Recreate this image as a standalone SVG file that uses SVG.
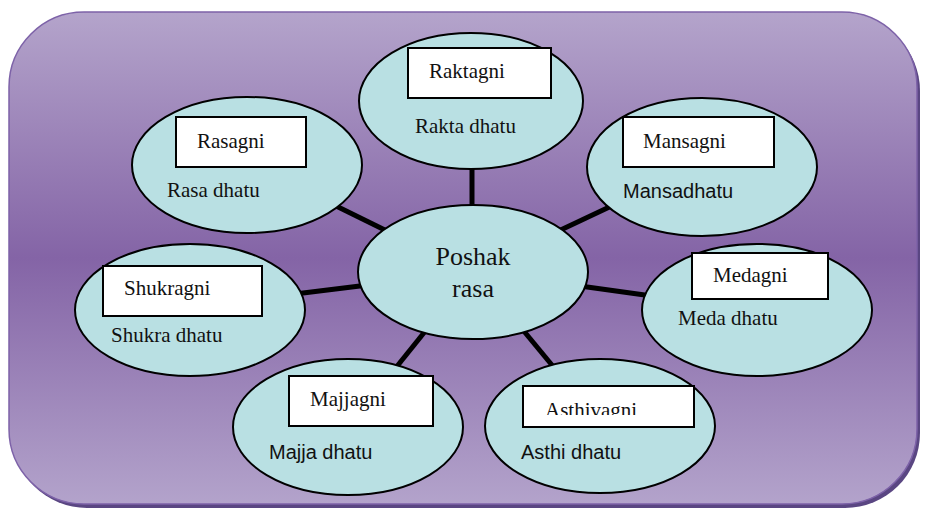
<svg xmlns="http://www.w3.org/2000/svg" width="925" height="510" viewBox="0 0 925 510">
<defs>
<linearGradient id="bg" x1="0" y1="0" x2="0" y2="1">
<stop offset="0" stop-color="#b4a4cb"/>
<stop offset="0.5" stop-color="#8464a6"/>
<stop offset="1" stop-color="#b3a3cb"/>
</linearGradient>
<clipPath id="clipAsthi"><rect x="520" y="386" width="176" height="29"/></clipPath>
</defs>
<style>
.node ellipse{fill:#b9e0e3;stroke:#000;stroke-width:2}
.node rect{fill:#fff;stroke:#000;stroke-width:2}
.serif{font-family:"Liberation Serif","Times New Roman",serif;font-size:21px;fill:#111}
.sans{font-family:"Liberation Sans",Arial,sans-serif;font-size:20px;fill:#111}
.conn line{stroke:#000;stroke-width:5}
</style>
<rect x="12" y="16" width="908" height="492" rx="75" fill="#5a4682"/>
<rect x="9" y="12" width="908" height="492" rx="75" fill="url(#bg)" stroke="#7d62a8" stroke-width="1.5"/>
<g id="connectors" class="conn">
<line x1="472" y1="160" x2="472" y2="215"/>
<line x1="330" y1="203" x2="395" y2="235"/>
<line x1="620" y1="202" x2="550" y2="235"/>
<line x1="295" y1="294" x2="368" y2="285"/>
<line x1="580" y1="286" x2="652" y2="296"/>
<line x1="427" y1="329" x2="394" y2="370"/>
<line x1="518" y1="324" x2="556" y2="370"/>
</g>
<g id="n-rasa" class="node">
<ellipse cx="247" cy="165" rx="115" ry="68"/>
<rect x="176" y="117" width="130" height="50"/>
<text class="serif" x="197" y="148">Rasagni</text>
<text class="serif" x="167" y="197">Rasa dhatu</text>
</g>
<g id="n-rakta" class="node">
<ellipse cx="471" cy="101" rx="112" ry="68"/>
<rect x="408" y="48" width="143" height="50"/>
<text class="serif" x="429" y="78">Raktagni</text>
<text class="serif" x="415" y="133">Rakta dhatu</text>
</g>
<g id="n-mansa" class="node">
<ellipse cx="702" cy="167" rx="115" ry="69"/>
<rect x="623" y="117" width="151" height="50"/>
<text class="serif" x="643" y="148">Mansagni</text>
<text class="sans" x="623" y="198">Mansadhatu</text>
</g>
<g id="n-shukra" class="node">
<ellipse cx="190" cy="310" rx="115" ry="66"/>
<rect x="103" y="266" width="159" height="50"/>
<text class="serif" x="124" y="295">Shukragni</text>
<text class="serif" x="111" y="342">Shukra dhatu</text>
</g>
<g id="n-meda" class="node">
<ellipse cx="757" cy="310" rx="115" ry="66"/>
<rect x="692" y="253" width="136" height="46"/>
<text class="serif" x="713" y="282">Medagni</text>
<text class="serif" x="678" y="325">Meda dhatu</text>
</g>
<g id="n-majja" class="node">
<ellipse cx="348" cy="427" rx="115" ry="68"/>
<rect x="289" y="376" width="144" height="50"/>
<text class="serif" x="310" y="406">Majjagni</text>
<text class="sans" x="269" y="459">Majja dhatu</text>
</g>
<g id="n-asthi" class="node">
<ellipse cx="600" cy="426" rx="115" ry="67"/>
<rect x="523" y="386" width="171" height="41"/>
<text class="serif" x="545" y="417" clip-path="url(#clipAsthi)">Asthivagni</text>
<text class="sans" x="521" y="459">Asthi dhatu</text>
</g>
<g id="n-center" class="node">
<ellipse cx="473" cy="272" rx="115" ry="67"/>
<text x="473" y="265" text-anchor="middle" style="font-family:'Liberation Serif','Times New Roman',serif;font-size:26px;fill:#111">Poshak</text>
<text x="473" y="297" text-anchor="middle" style="font-family:'Liberation Serif','Times New Roman',serif;font-size:26px;fill:#111">rasa</text>
</g>
</svg>
